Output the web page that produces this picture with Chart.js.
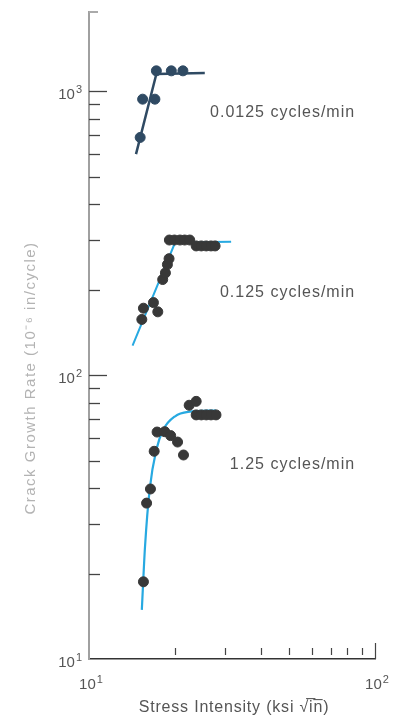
<!DOCTYPE html>
<html>
<head>
<meta charset="utf-8">
<script src="https://cdn.jsdelivr.net/npm/chart.js@4/dist/chart.umd.min.js"></script>
<style>
	html, body { margin: 0; padding: 0; background: #fff; }
	canvas { display: block; }
</style>
</head>
<body>
<canvas id="chart" width="400" height="720"></canvas>
<script>
// 0.0125 cycles/min
const slowX = [15.1, 15.4, 17.0, 17.2, 19.4, 21.3];
const slowY = [687, 937, 937, 1179, 1179, 1179];
const slowFitX = [14.6, 17.2, 25.4];
const slowFitY = [600, 1150, 1158];

// 0.125 cycles/min
const midX = [15.3, 15.5, 16.8, 17.4, 18.1, 18.5, 18.8, 19.05, 19.1, 19.9, 20.8, 21.6, 22.5, 23.7, 24.7, 25.7, 26.7, 27.6];
const midY = [157, 172, 180, 167, 217, 229, 245, 257, 299, 299, 299, 299, 299, 285, 285, 285, 285, 285];
const midFitX = [14.2, 20.0, 31.4];
const midFitY = [127, 293, 295];

// 1.25 cycles/min
const fastX = [15.5, 15.9, 16.4, 16.9, 17.3, 18.4, 19.3, 20.4, 21.4, 22.4, 23.7, 23.7, 24.7, 25.7, 26.7, 27.8];
const fastY = [18.7, 35.4, 39.7, 53.9, 63, 63.2, 61.2, 58.1, 52.3, 78.3, 80.8, 72.4, 72.4, 72.4, 72.4, 72.4];
const fastFitX = [15.3, 15.7, 16.3, 17.2, 18.2, 20.0, 22.2, 27.8];
const fastFitY = [14.9, 24.9, 39.6, 54.6, 64.3, 71.6, 74.2, 75];

const seriesNames = ['0.0125 cycles/min', '0.125 cycles/min', '1.25 cycles/min'];
const xTickLabels = [[10, '1'], [100, '2']];
const yTickLabels = [[10, '1'], [100, '2'], [1000, '3']];

function pts(xs, ys) {
	return xs.map((x, i) => ({ x: x, y: ys[i] }));
}

// only 1..9 x decade ticks
function isRoundTick(v) {
	const d = Math.pow(10, Math.floor(Math.log10(v) + 1e-9));
	return Math.abs(v / d - Math.round(v / d)) < 1e-6;
}

const FONT = '"Liberation Sans", Arial, sans-serif';
const NAVY = '#2f4a63';
const BLUE = '#27a9e1';
const DOT = '#383838';

function powerLabel(ctx, exp, x, y, align) {
	ctx.font = '15px ' + FONT;
	const w1 = ctx.measureText('10').width;
	ctx.font = '11px ' + FONT;
	const w2 = ctx.measureText(exp).width;
	const total = w1 + w2 + 1;
	let left = (align == 'right') ? x - total : x - total / 2;
	ctx.textAlign = 'left';
	ctx.textBaseline = 'alphabetic';
	ctx.font = '15px ' + FONT;
	ctx.fillText('10', left, y);
	ctx.font = '11px ' + FONT;
	ctx.fillText(exp, left + w1 + 1, y - 6);
}

// labels + axis decorations drawn on top
const inkPlugin = {
	id: 'ink',
	afterDraw(chart) {
		const ctx = chart.ctx;
		const xs = chart.scales.x, ys = chart.scales.y;
		const area = chart.chartArea;
		ctx.save();

		// y ticks pointing inward
		ctx.strokeStyle = '#444';
		ctx.lineWidth = 1.3;
		ys.ticks.forEach((t) => {
			if (t.value <= 10 || t.value > 1000 || !isRoundTick(t.value)) return;
			const major = Math.abs(Math.log10(t.value) % 1) < 1e-9;
			const py = Math.round(ys.getPixelForValue(t.value)) + 0.5;
			ctx.beginPath();
			ctx.moveTo(area.left, py);
			ctx.lineTo(area.left + (major ? 18 : 11), py);
			ctx.stroke();
		});
		// top cap
		ctx.strokeStyle = '#aaa';
		ctx.lineWidth = 2;
		ctx.beginPath();
		ctx.moveTo(area.left, area.top);
		ctx.lineTo(area.left + 9, area.top);
		ctx.stroke();

		// x ticks pointing inward
		ctx.strokeStyle = '#444';
		ctx.lineWidth = 1.2;
		xs.ticks.forEach((t) => {
			if (t.value <= 10 || !isRoundTick(t.value)) return;
			const px = Math.round(xs.getPixelForValue(t.value)) + 0.5;
			ctx.beginPath();
			if (t.value >= 100) {
				ctx.moveTo(px, area.bottom);
				ctx.lineTo(px, area.bottom - 16);
			} else {
				ctx.moveTo(px, area.bottom - 4);
				ctx.lineTo(px, area.bottom - 11);
			}
			ctx.stroke();
		});

		// tick labels
		ctx.fillStyle = '#555';
		yTickLabels.forEach(([v, e]) => {
			powerLabel(ctx, e, area.left - 7, ys.getPixelForValue(v) + 8, 'right');
		});
		xTickLabels.forEach(([v, e]) => {
			powerLabel(ctx, e, xs.getPixelForValue(v) + 2, area.bottom + 30, 'center');
		});

		// series labels
		ctx.fillStyle = '#555';
		ctx.font = '16px ' + FONT;
		ctx.letterSpacing = '1px';
		ctx.textAlign = 'right';
		ctx.textBaseline = 'middle';
		const anchors = [[85.2, 843], [85.2, 195], [85.2, 48.3]];
		seriesNames.forEach((name, i) => {
			ctx.fillText(name, xs.getPixelForValue(anchors[i][0]), ys.getPixelForValue(anchors[i][1]));
		});

		// axis titles
		ctx.textAlign = 'center';
		ctx.fillStyle = '#555';
		ctx.font = '16px ' + FONT;
		ctx.letterSpacing = '0.8px';
		ctx.fillText('Stress Intensity (ksi \u221ai\u0305n\u0305)', 234, 708);

		ctx.translate(31, 378);
		ctx.rotate(-Math.PI / 2);
		ctx.fillStyle = '#b3b3b3';
		ctx.font = '15px ' + FONT;
		ctx.letterSpacing = '1.5px';
		ctx.filter = 'blur(0.5px)';
		ctx.fillText('Crack Growth Rate (10\u207b\u2076 in/cycle)', 0, 0);
		ctx.restore();
	}
};

new Chart(document.getElementById('chart'), {
	type: 'scatter',
	data: {
		datasets: [
			{ data: pts(slowX, slowY), backgroundColor: NAVY, borderColor: NAVY, pointRadius: 5, order: 0 },
			{ data: pts(midX, midY), backgroundColor: DOT, borderColor: DOT, pointRadius: 5, order: 0 },
			{ data: pts(fastX, fastY), backgroundColor: DOT, borderColor: DOT, pointRadius: 5, order: 0 },
			{ type: 'line', data: pts(slowFitX, slowFitY), borderColor: NAVY, borderWidth: 2.5, pointRadius: 0, fill: false, order: 1 },
			{ type: 'line', data: pts(midFitX, midFitY), borderColor: BLUE, borderWidth: 2, pointRadius: 0, fill: false, order: 1 },
			{ type: 'line', data: pts(fastFitX, fastFitY), borderColor: BLUE, borderWidth: 2.2, pointRadius: 0, fill: false,
				cubicInterpolationMode: 'monotone', order: 1 },
		]
	},
	options: {
		responsive: false,
		animation: false,
		layout: { padding: { top: 12, right: 25, left: 0, bottom: 0 } },
		plugins: { legend: { display: false }, tooltip: { enabled: false } },
		scales: {
			x: {
				type: 'logarithmic',
				min: 10,
				max: 100,
				grid: { display: false, drawTicks: false },
				border: { display: true, color: '#333', width: 1.5 },
				ticks: { autoSkip: false, maxRotation: 0, callback: () => '' },
				afterFit: (scale) => { scale.height = 61; }
			},
			y: {
				type: 'logarithmic',
				min: 10,
				max: 1900,
				grid: { display: false, drawTicks: false },
				border: { display: true, color: '#a0a0a0', width: 2 },
				ticks: { autoSkip: false, callback: () => '' },
				afterFit: (scale) => { scale.width = 89; }
			}
		}
	},
	plugins: [inkPlugin]
});
</script>
</body>
</html>
